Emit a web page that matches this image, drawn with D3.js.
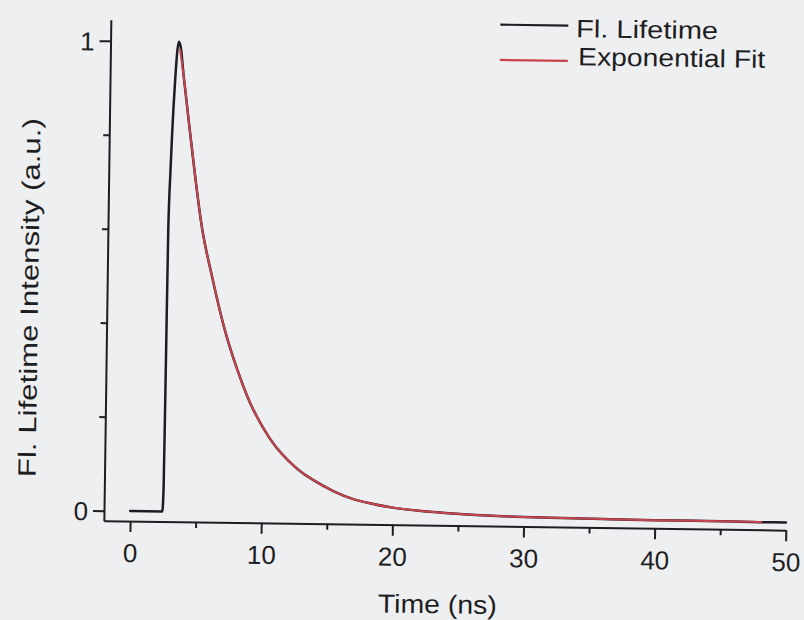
<!DOCTYPE html>
<html>
<head>
<meta charset="utf-8">
<script src="https://cdn.jsdelivr.net/npm/d3@7"></script>
<style>
  html, body { margin: 0; padding: 0; background: #eeeff1; }
  svg { display: block; }
  text { font-family: "Liberation Sans", Arial, Helvetica, sans-serif; fill: #1e1e22; }
</style>
</head>
<body>
<svg id="chart" width="804" height="620"></svg>
<script>
// ---- data ----
const lifetimeTime  = [0, 2.45, 2.52, 2.56, 2.6, 2.7, 2.8, 2.97, 3.1, 3.2, 3.35, 3.6, 4.1, 5.2, 6, 7, 8, 9, 10, 11, 12, 13, 14, 15.5, 17, 18, 20, 22, 24, 26, 28, 32, 36, 40, 44, 48, 50];
const lifetimeValue = [0, 0, 0.05, 0.3, 0.6, 0.72, 0.81, 0.92, 0.98, 1.0, 0.99, 0.93, 0.82, 0.60, 0.50, 0.39, 0.305, 0.235, 0.183, 0.142, 0.112, 0.088, 0.070, 0.048, 0.032, 0.025, 0.015, 0.009, 0.005, 0.002, 0.0, -0.002, -0.003, -0.004, -0.004, -0.005, -0.005];
const fitTime  = [3.3, 3.6, 4.1, 5.2, 6, 7, 8, 9, 10, 11, 12, 13, 14, 15.5, 17, 18, 20, 22, 24, 26, 28, 32, 36, 40, 44, 48.2];
const fitValue = [0.985, 0.93, 0.82, 0.60, 0.50, 0.39, 0.305, 0.235, 0.183, 0.142, 0.112, 0.088, 0.070, 0.048, 0.032, 0.025, 0.015, 0.009, 0.005, 0.002, 0.0, -0.002, -0.003, -0.004, -0.004, -0.005];
const xMajorTicks = [0, 10, 20, 30, 40, 50];
const xMinorTicks = [5, 15, 25, 35, 45];
const yMajorTicks = [0, 1];
const yMinorTicks = [0.2, 0.4, 0.6, 0.8];
const seriesNames = ["Fl. Lifetime", "Exponential Fit"];
const xTitle = "Time (ns)";
const yTitle = "Fl. Lifetime Intensity (a.u.)";

// ---- layout ----
const colBlack = "#1d1d26";
const colRed = "#c9444c";
const axisCol = "#1e1e22";

const svg = d3.select("#chart");
const g = svg.append("g").attr("transform", "rotate(0.8, 130, 511)");

const x = d3.scaleLinear().domain([-2, 50]).range([104, 786]);
const y = d3.scaleLinear().domain([-0.0213, 1.045]).range([521, 20]);

function styleAxis(sel) {
  sel.selectAll("path.domain").attr("stroke", axisCol).attr("stroke-width", 2);
  sel.selectAll(".tick line").attr("stroke", axisCol).attr("stroke-width", 2);
  sel.selectAll(".tick text").attr("fill", axisCol)
     .style("font-family", '"Liberation Sans", Arial, sans-serif')
     .style("font-size", "26px");
}

// X axis: major
const gx = g.append("g").attr("transform", `translate(0,${y.range()[0]})`)
  .call(d3.axisBottom(x).tickValues(xMajorTicks).tickSize(11).tickSizeOuter(0).tickPadding(7).tickFormat(d3.format("d")));
styleAxis(gx);
gx.selectAll(".tick text").attr("dy", null).attr("y", 41);
// X axis: minor
const gxm = g.append("g").attr("transform", `translate(0,${y.range()[0]})`)
  .call(d3.axisBottom(x).tickValues(xMinorTicks).tickSize(6).tickSizeOuter(0).tickFormat(""));
gxm.select("path.domain").remove();
styleAxis(gxm);

// Y axis: major
const gy = g.append("g").attr("transform", `translate(${x.range()[0]},0)`)
  .call(d3.axisLeft(y).tickValues(yMajorTicks).tickSize(11).tickSizeOuter(0).tickPadding(6).tickFormat(d3.format("d")));
styleAxis(gy);
gy.selectAll(".tick text").attr("x", -16).attr("dy", "0.36em");
const gym = g.append("g").attr("transform", `translate(${x.range()[0]},0)`)
  .call(d3.axisLeft(y).tickValues(yMinorTicks).tickSize(6).tickSizeOuter(0).tickFormat(""));
gym.select("path.domain").remove();
styleAxis(gym);

// curves
const line = d3.line().x(d => x(d[0])).y(d => y(d[1])).curve(d3.curveMonotoneX);
const lifetimeData = lifetimeTime.map((t, i) => [t, lifetimeValue[i]]);
const fitData = fitTime.map((t, i) => [t, fitValue[i]]);

g.append("path").datum(lifetimeData).attr("d", line)
  .attr("fill", "none").attr("stroke", colBlack).attr("stroke-width", 2.5)
  .attr("stroke-linejoin", "round").attr("stroke-linecap", "round");
g.append("path").datum(fitData).attr("d", line)
  .attr("fill", "none").attr("stroke", colRed).attr("stroke-width", 2);

// axis titles
g.append("text").attr("x", 438.7).attr("y", 609).attr("text-anchor", "middle")
  .attr("textLength", 119).attr("lengthAdjust", "spacingAndGlyphs")
  .style("font-size", "26px").text(xTitle);
g.append("text").attr("transform", "translate(35,299) rotate(-90)").attr("text-anchor", "middle")
  .attr("textLength", 359).attr("lengthAdjust", "spacingAndGlyphs")
  .style("font-size", "25px").text(yTitle);

// legend
const legendItems = [
  { name: seriesNames[0], color: colBlack, ly: 19.5, ty: 31, tx: 569.4, w: 142 },
  { name: seriesNames[1], color: colRed, ly: 54.8, ty: 59, tx: 571.8, w: 187 }
];
const lg = g.append("g");
legendItems.forEach(it => {
  lg.append("line").attr("x1", 493.5).attr("x2", 561.5).attr("y1", it.ly).attr("y2", it.ly)
    .attr("stroke", it.color).attr("stroke-width", 2.2);
  lg.append("text").attr("x", it.tx).attr("y", it.ty)
    .attr("textLength", it.w).attr("lengthAdjust", "spacingAndGlyphs")
    .style("font-size", "25px").text(it.name);
});
</script>
</body>
</html>
